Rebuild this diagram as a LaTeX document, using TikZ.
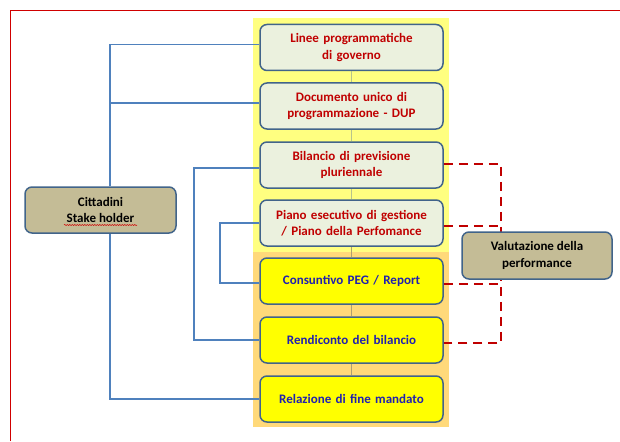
\documentclass[tikz,border=0pt]{standalone}
\usepackage{fontspec}
\setmainfont{Carlito}
\usetikzlibrary{decorations.pathmorphing}
\definecolor{framered}{HTML}{D00000}
\definecolor{bandyel}{HTML}{FFFF80}
\definecolor{bandorg}{HTML}{FFD97A}
\definecolor{boxlight}{HTML}{EBF1DE}
\definecolor{boxyel}{HTML}{FFFF00}
\definecolor{boxtan}{HTML}{C4BC96}
\definecolor{boxedge}{HTML}{41648A}
\definecolor{conblue}{HTML}{4F81BD}
\definecolor{dashred}{HTML}{C00000}
\definecolor{txtred}{HTML}{C00000}
\definecolor{txtblue}{HTML}{2020B0}
\definecolor{spineA}{HTML}{B8C48C}
\definecolor{spineB}{HTML}{B0A070}
\tikzset{
  stepbox/.style={draw=boxedge, line width=1.5pt, rounded corners=7pt,
    minimum width=183pt, minimum height=46pt, text width=178pt, align=center,
    font=\fontsize{13}{16.5}\selectfont\bfseries, inner sep=0pt},
  topbox/.style={stepbox, fill=boxlight, text=txtred},
  botbox/.style={stepbox, fill=boxyel, text=txtblue},
  sidebox/.style={draw=boxedge, line width=1.5pt, rounded corners=7pt, fill=boxtan,
    minimum width=151pt, minimum height=46pt, align=center,
    font=\fontsize{13}{16.5}\selectfont\bfseries, inner sep=0pt},
  bluecon/.style={draw=conblue, line width=1.8pt},
  redcon/.style={draw=dashred, line width=2.2pt, dash pattern=on 9pt off 6pt},
  spine/.style={line width=1.5pt}
}
\begin{document}
\begin{tikzpicture}[x=1pt,y=-1pt]
\useasboundingbox (0,0) rectangle (620,441);
\fill[white] (0,0) rectangle (620,441);
% frame
\draw[framered, line width=1pt] (10.5,441) -- (10.5,10.5) -- (620,10.5);
% bands
\fill[bandyel] (253,18) rectangle (449,252);
\fill[bandorg] (253,252) rectangle (449,427);
% nodes
\node[topbox] (b1) at (351.5,47.5) {Linee programmatiche\\di governo};
\node[topbox] (b2) at (351.5,106) {Documento unico di\\programmazione - DUP};
\node[topbox] (b3) at (351.5,165) {Bilancio di previsione\\pluriennale};
\node[topbox] (b4) at (351.5,223) {Piano esecutivo di gestione\\/ Piano della Perfomance};
\node[botbox] (b5) at (351.5,281) {Consuntivo PEG / Report};
\node[botbox] (b6) at (351.5,340) {Rendiconto del bilancio};
\node[botbox] (b7) at (351.5,399) {Relazione di fine mandato};
\node[sidebox] (cit) at (100.5,210) {Cittadini\\Stake holder};
% spine
\draw[spine, spineA] (b1.south) -- (b2.north);
\draw[spine, spineA] (b2.south) -- (b3.north);
\draw[spine, spineA] (b3.south) -- (b4.north);
\draw[spine, spineB] (b4.south) -- (b5.north);
\draw[spine, spineB] (b5.south) -- (b6.north);
\draw[spine, spineB] (b6.south) -- (b7.north);
% blue connectors
\draw[bluecon] ([xshift=9.5pt]cit.north) |- ([yshift=3pt]b1.west);
\draw[bluecon] ([xshift=9.5pt]cit.north) |- ([yshift=3pt]b2.west);
\draw[bluecon] ([xshift=9.5pt]cit.south) |- (b7.west);
\draw[bluecon] ([yshift=-3pt]b3.west) -- ++(-65,0) |- (b6.west);
\draw[bluecon] (b4.west) -- ++(-39.5,0) |- ([yshift=-2pt]b5.west);
% red dashed connectors
\coordinate (vt) at (501,164);
\coordinate (vb) at (501,343);
\draw[redcon] ([yshift=1pt]b3.east) -- (vt) -- (vb) -- ([yshift=-3pt]b6.east);
\draw[redcon] ([yshift=-3pt]b4.east) -- ([yshift=-3pt]b4.east -| vt);
\draw[redcon] ([yshift=-3pt]b5.east) -- ([yshift=-3pt]b5.east -| vt);
% evaluation box
\node[sidebox, minimum width=150pt, minimum height=47pt] (val) at (537,255.5) {Valutazione della\\performance};
% spell-check underline
\draw[framered, line width=0.5pt, decorate, decoration={snake, amplitude=0.6pt, segment length=2.5pt}] (64,225) -- (137,225);
\end{tikzpicture}
\end{document}
